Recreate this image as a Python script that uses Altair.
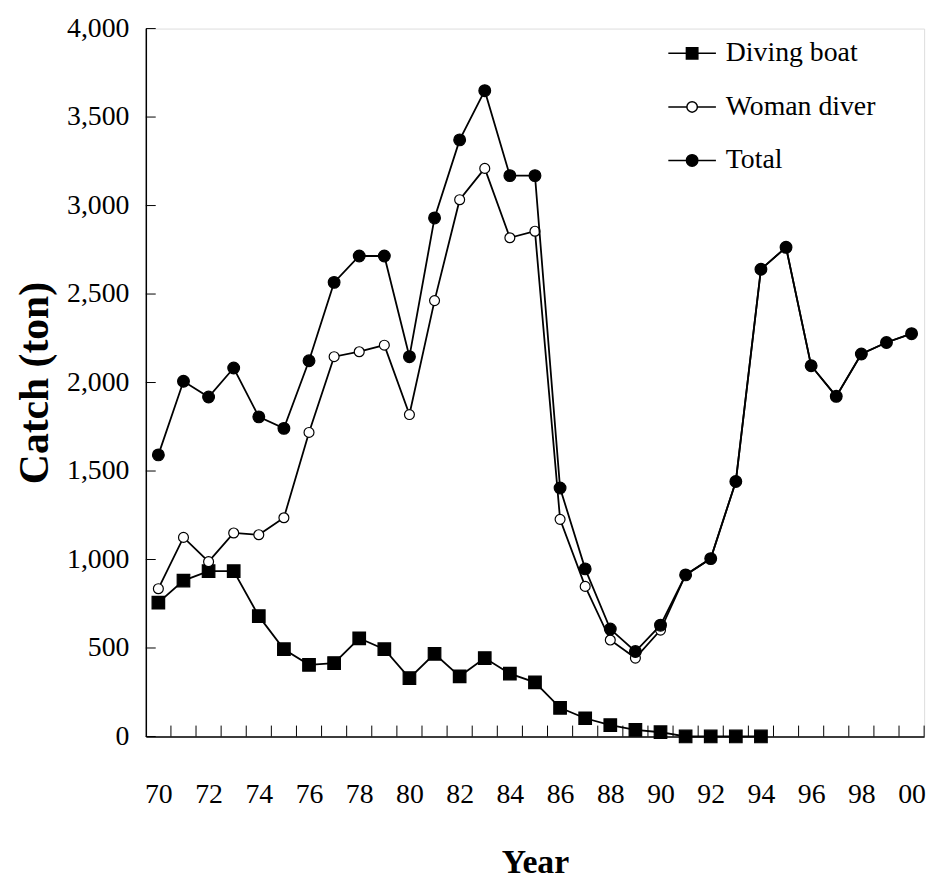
import altair as alt
import pandas as pd

# ---- data ----
years = [1970, 1971, 1972, 1973, 1974, 1975, 1976, 1977, 1978, 1979,
         1980, 1981, 1982, 1983, 1984, 1985, 1986, 1987, 1988, 1989,
         1990, 1991, 1992, 1993, 1994, 1995, 1996, 1997, 1998, 1999, 2000]
# Diving boat reported 1970-1994
diving_boat = [756, 881, 934, 934, 680, 493, 405, 415, 555, 493,
               330, 467, 340, 443, 355, 306, 162, 103, 64, 37,
               24, 0, 0, 0, 0]
woman_diver = [835, 1125, 988, 1150, 1140, 1236, 1718, 2146, 2174, 2211,
               1819, 2463, 3033, 3210, 2818, 2855, 1227, 848, 545, 443,
               601, 913, 1005, 1441, 2640, 2764, 2095, 1922, 2161, 2226, 2276]
total = [1591, 2007, 1918, 2082, 1806, 1741, 2123, 2566, 2715, 2715,
         2146, 2930, 3371, 3649, 3169, 3169, 1404, 947, 607, 480,
         629, 913, 1005, 1441, 2640, 2764, 2095, 1922, 2161, 2226, 2276]

series_names = ["Diving boat", "Woman diver", "Total"]
y_tick_values = [0, 500, 1000, 1500, 2000, 2500, 3000, 3500, 4000]
x_label_values = [1970, 1972, 1974, 1976, 1978, 1980, 1982, 1984, 1986,
                  1988, 1990, 1992, 1994, 1996, 1998, 2000]

# ---- tables ----
df_boat = pd.DataFrame({"year": years[:len(diving_boat)], "value": diving_boat})
df_woman = pd.DataFrame({"year": years, "value": woman_diver})
df_total = pd.DataFrame({"year": years, "value": total})
df_xticks = pd.DataFrame({"year": [y + 0.5 for y in years]})
df_yticks = pd.DataFrame({"value": y_tick_values})
df_legend = pd.DataFrame({"series": series_names})

W, H = 785, 714
FONT = "Liberation Serif"

x_scale = alt.Scale(domain=[1969.5, 2000.5], nice=False, zero=False)
y_scale = alt.Scale(domain=[0, 4000], nice=False)

x_axis = alt.Axis(values=x_label_values,
                  labelExpr="slice(toString(datum.value), 2)",
                  ticks=False, grid=False, domainColor="black", domainWidth=1.5,
                  labelFont=FONT, labelFontSize=28, labelColor="black",
                  labelPadding=45, labelFlush=False,
                  title="Year", titleFont=FONT, titleFontSize=34,
                  titleFontWeight="bold", titleColor="black",
                  titleBaseline="alphabetic", titleY=137)
y_axis = alt.Axis(values=y_tick_values, format=",.0f",
                  ticks=False, grid=False, domainColor="black", domainWidth=1.5,
                  labelFont=FONT, labelFontSize=28, labelColor="black",
                  labelPadding=17,
                  title="Catch (ton)", titleFont=FONT, titleFontSize=42,
                  titleFontWeight="bold", titleColor="black",
                  titleX=-112, titleBaseline="middle")


def X():
    return alt.X("year:Q", scale=x_scale, axis=x_axis)


def Y():
    return alt.Y("value:Q", scale=y_scale, axis=y_axis)


# inward ticks
x_ticks = alt.Chart(df_xticks).mark_rule(color="black", strokeWidth=1).encode(
    x=X(), y=alt.value(H), y2=alt.value(H - 11))
y_ticks = alt.Chart(df_yticks).mark_rule(color="black", strokeWidth=1).encode(
    y=Y(), x=alt.value(0), x2=alt.value(10))


def series_layers(df, shape, fill, size):
    line = alt.Chart(df).mark_line(color="black", strokeWidth=1.8).encode(x=X(), y=Y())
    pts = alt.Chart(df).mark_point(shape=shape, filled=True, fill=fill,
                                   stroke="black", strokeWidth=1.2,
                                   size=size, opacity=1).encode(x=X(), y=Y())
    return [line, pts]


layers = [x_ticks, y_ticks]
layers += series_layers(df_boat, "square", "black", 160)
layers += series_layers(df_woman, "circle", "white", 100)
layers += series_layers(df_total, "circle", "black", 140)

# legend (line + marker symbols)
legend_paths = [
    "M-1,0H1M-0.24,-0.24H0.24V0.24H-0.24Z",
    "M-1,0H-0.22M0.22,0H1M-0.22,0A0.22,0.22 0 1,0 0.22,0A0.22,0.22 0 1,0 -0.22,0Z",
    "M-1,0H1M-0.24,0A0.24,0.24 0 1,0 0.24,0A0.24,0.24 0 1,0 -0.24,0Z",
]
legend = alt.Legend(title=None, orient="none", legendX=526, legendY=0,
                    symbolSize=2304, symbolStrokeWidth=1.5,
                    symbolStrokeColor="black", symbolOpacity=1,
                    labelFont=FONT, labelFontSize=28, labelColor="black",
                    labelOffset=9, rowPadding=15, padding=0, symbolOffset=0,
                    labelLimit=300)
legend_layer = alt.Chart(df_legend).mark_point(filled=True, stroke="black", opacity=1).encode(
    shape=alt.Shape("series:N", scale=alt.Scale(domain=series_names, range=legend_paths),
                    legend=legend),
    fill=alt.Fill("series:N", scale=alt.Scale(domain=series_names,
                                              range=["black", "white", "black"]),
                  legend=legend),
    stroke=alt.Stroke("series:N", scale=alt.Scale(domain=series_names,
                                                  range=["black", "black", "black"]),
                      legend=legend),
).transform_filter("false")
layers.append(legend_layer)

chart = alt.layer(*layers).properties(
    width=W, height=H,
    autosize=alt.AutoSizeParams(type="none"),
    padding={"left": 139, "top": 17, "right": 15, "bottom": 141},
).configure_view(stroke=None).configure(background="white")

chart.save("out.html", embed_options={"renderer": "svg", "actions": False})
